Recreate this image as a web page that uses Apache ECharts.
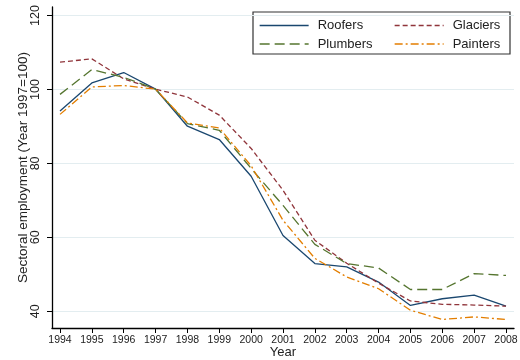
<!DOCTYPE html>
<html>
<head>
<meta charset="utf-8">
<script src="https://cdn.jsdelivr.net/npm/echarts@6/dist/echarts.min.js"></script>
<style>
html,body{margin:0;padding:0;background:#fff;}
#c{width:520px;height:360px;}
</style>
</head>
<body>
<div id="c"></div>
<script>
const years = [1994,1995,1996,1997,1998,1999,2000,2001,2002,2003,2004,2005,2006,2007,2008];
const roofers  = [94.1,101.7,104.5,100,90.0,86.4,76.5,60.5,52.9,52.0,47.9,41.6,43.4,44.4,41.4];
const glaciers = [107.3,108.2,102.8,100,97.9,93.0,84.0,72.7,59.2,53.0,47.6,42.8,41.9,41.7,41.4];
const plumbers = [98.6,105.3,103.2,100,90.7,88.9,78.6,68.6,58.1,52.9,51.7,45.9,45.9,50.2,49.7];
const painters = [93.2,100.6,101.0,100,90.9,89.5,79.3,64.6,54.3,49.3,46.1,40.3,37.8,38.5,37.8];
const yTicks = [40,60,80,100,120];
const seriesNames = ['Roofers','Glaciers','Plumbers','Painters'];

const FONT = '"Liberation Sans", Arial, sans-serif';
const pairs = arr => years.map((y,i)=>[y,arr[i]]);

const styles = {
  Roofers:  {color:'#1a476f', type:'solid'},
  Glaciers: {color:'#90353b', type:[5,3]},
  Plumbers: {color:'#55752f', type:[10,5]},
  Painters: {color:'#e37e00', type:[8,3,2,3]}
};
const dataMap = {Roofers:roofers, Glaciers:glaciers, Plumbers:plumbers, Painters:painters};

const legendPos = {
  Roofers:  {left:259, top:19},
  Glaciers: {left:394, top:19},
  Plumbers: {left:259, top:37.5},
  Painters: {left:394, top:37.5}
};

const chart = echarts.init(document.getElementById('c'), null, {renderer:'canvas'});
const option = {
  animation:false,
  backgroundColor:'#fff',
  textStyle:{fontFamily:FONT},
  grid:[
    {left:60, right:14, top:7, bottom:32, containLabel:false, outerBoundsMode:'none'},
    {left:52, right:6, top:15.5, bottom:48.7, containLabel:false, outerBoundsMode:'none'},
    {left:52, right:6, top:7, bottom:32, containLabel:false, outerBoundsMode:'none'}
  ],
  xAxis:[
    {gridIndex:0, type:'value', min:1994, max:2008, interval:1,
     axisLine:{show:false},
     axisTick:{show:true, length:5, lineStyle:{color:'#000', width:1}},
     axisLabel:{show:true, margin:7, fontSize:10.5, color:'#222', fontFamily:FONT, formatter:v=>String(v)},
     splitLine:{show:false}},
    {gridIndex:1, type:'value', min:0, max:1, show:false},
    {gridIndex:2, type:'value', min:0, max:1,
     axisLine:{show:true, onZero:false, lineStyle:{color:'#000', width:1.3}},
     axisTick:{show:false}, axisLabel:{show:false}, splitLine:{show:false},
     name:'Year', nameLocation:'middle', nameGap:18,
     nameTextStyle:{fontSize:13, color:'#222', fontFamily:FONT}}
  ],
  yAxis:[
    {gridIndex:0, type:'value', min:35.5, max:122.2, show:false},
    {gridIndex:1, type:'value', min:40, max:120, interval:20,
     axisLine:{show:false},
     axisTick:{show:true, length:5, lineStyle:{color:'#000', width:1}},
     axisLabel:{show:true, rotate:90, margin:10, fontSize:12.5, color:'#222', fontFamily:FONT},
     splitLine:{show:true, lineStyle:{color:'#e3edf0', width:1}}},
    {gridIndex:2, type:'value', min:0, max:1,
     axisLine:{show:true, onZero:false, lineStyle:{color:'#000', width:1.3}},
     axisTick:{show:false}, axisLabel:{show:false}, splitLine:{show:false},
     name:'Sectoral employment (Year 1997=100)', nameLocation:'middle', nameGap:22,
     nameTextStyle:{fontSize:13.5, color:'#222', fontFamily:FONT}}
  ],
  legend: seriesNames.map(n=>({
    data:[n], left:legendPos[n].left, top:legendPos[n].top, padding:0,
    itemWidth:49, itemHeight:14,
    selectedMode:false, z:10,
    itemStyle:{opacity:0},
    lineStyle:{width:1.3},
    textStyle:{fontSize:13, color:'#222', fontFamily:FONT, padding:[0,0,0,4]}
  })),
  graphic:[{
    type:'rect', shape:{x:253, y:12, width:257, height:42},
    style:{fill:'none', stroke:'#333', lineWidth:1.2}, silent:true
  }],
  series: seriesNames.map(n=>({
    name:n, type:'line', xAxisIndex:0, yAxisIndex:0,
    data:pairs(dataMap[n]), showSymbol:false, symbol:'none', clip:false,
    color:styles[n].color,
    lineStyle:{color:styles[n].color, width:1.3, type:styles[n].type}
  }))
};
chart.setOption(option);
</script>
</body>
</html>
